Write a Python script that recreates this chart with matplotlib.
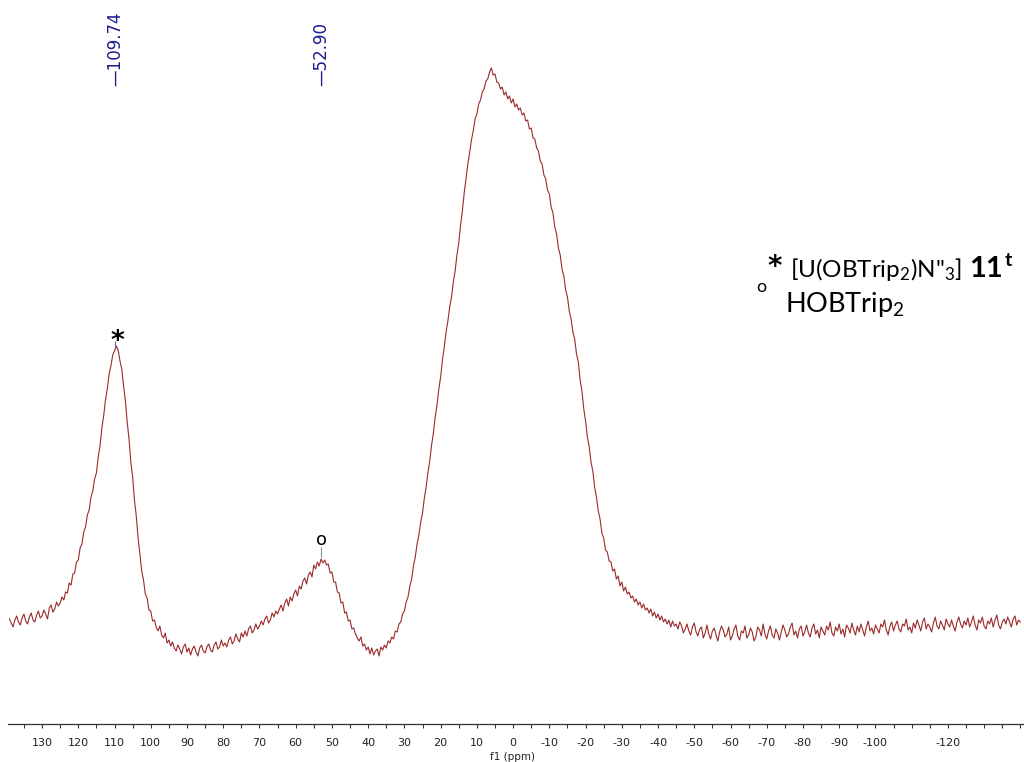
import numpy as np
import matplotlib.pyplot as plt
from matplotlib.ticker import MultipleLocator

plt.rcParams['font.family'] = ['Lato', 'DejaVu Sans']
plt.rcParams['mathtext.fontset'] = 'custom'
plt.rcParams['mathtext.rm'] = 'Lato'
plt.rcParams['mathtext.it'] = 'Lato:italic'
plt.rcParams['mathtext.bf'] = 'Lato:bold'

# intensity (arb. units), one point every 0.5 ppm starting at 139 ppm
intensity = [
    41, 37, 33, 40, 44, 38, 35, 42, 46, 39,            # 139 .. 134.5
    36, 43, 47, 40, 38, 45, 49, 42, 44, 50,            # 134 .. 129.5
    46, 41, 52, 55, 48, 51, 58, 54, 57, 63,            # 129 .. 124.5
    60, 68, 67, 77, 75, 86, 87, 98, 100, 112,          # 124 .. 119.5
    116, 128, 133, 145, 150, 163, 169, 181, 187, 203,  # 119 .. 114.5
    214, 232, 244, 260, 271, 286, 294, 305, 309, 314,  # 114 .. 109.5
    310, 299, 291, 274, 259, 238, 221, 198, 183, 160,  # 109 .. 104.5
    144, 122, 106, 89, 80, 66, 62, 50, 49, 39,         # 104 .. 99.5
    40, 33, 29, 34, 25, 22, 27, 17, 20, 14,            # 99 .. 94.5
    18, 12, 9, 15, 11, 6, 13, 16, 8, 12,               # 94 .. 89.5
    5, 11, 14, 8, 4, 12, 15, 9, 7, 13,                 # 89 .. 84.5
    16, 10, 8, 15, 18, 11, 13, 20, 14, 17,             # 84 .. 79.5
    13, 20, 23, 16, 19, 26, 21, 18, 27, 23,            # 79 .. 74.5
    29, 24, 31, 34, 27, 30, 36, 31, 34, 39,            # 74 .. 69.5
    35, 41, 44, 37, 40, 47, 43, 49, 46, 51,            # 69 .. 64.5
    55, 49, 57, 61, 54, 63, 59, 66, 70, 64,            # 64 .. 59.5
    74, 71, 79, 82, 76, 85, 88, 83, 95, 91,            # 59 .. 54.5
    98, 94, 101, 97, 100, 95, 96, 87, 88, 78,          # 54 .. 49.5
    78, 68, 67, 57, 58, 47, 48, 39, 40, 31,            # 49 .. 44.5
    32, 26, 22, 19, 23, 14, 16, 10, 13, 6,             # 44 .. 39.5
    12, 5, 9, 11, 4, 13, 10, 15, 12, 19,               # 39 .. 34.5
    17, 23, 21, 29, 28, 36, 38, 46, 49, 58,            # 34 .. 29.5
    63, 74, 81, 94, 103, 116, 125, 138, 147, 162,      # 29 .. 24.5
    173, 188, 199, 215, 227, 243, 255, 271, 283, 300,  # 24 .. 19.5
    313, 328, 339, 353, 363, 378, 389, 405, 417, 435,  # 19 .. 14.5
    449, 467, 481, 496, 507, 520, 529, 541, 546, 556,  # 14 .. 9.5
    560, 568, 571, 579, 581, 588, 592, 585, 586, 578,  # 9 .. 4.5
    577, 571, 573, 565, 568, 561, 564, 557, 561, 553,  # 4 .. -0.5
    556, 550, 552, 545, 547, 539, 540, 531, 532, 522,  # -1 .. -5.5
    521, 512, 509, 499, 496, 485, 481, 470, 466, 453,  # -6 .. -10.5
    447, 433, 426, 412, 405, 391, 384, 370, 363, 349,  # -11 .. -15.5
    341, 328, 321, 306, 298, 280, 269, 251, 239, 223,  # -16 .. -20.5
    213, 198, 189, 173, 163, 149, 141, 127, 122, 110,  # -21 .. -25.5
    108, 99, 98, 89, 91, 81, 84, 74, 78, 69,           # -26 .. -30.5
    73, 66, 68, 62, 64, 58, 61, 55, 58, 52,            # -31 .. -35.5
    56, 50, 52, 47, 51, 44, 48, 42, 46, 40,            # -36 .. -40.5
    44, 38, 41, 36, 40, 33, 39, 34, 36, 31,            # -41 .. -45.5
    38, 34, 27, 31, 36, 29, 25, 33, 37, 28,            # -46 .. -50.5
    24, 31, 33, 22, 27, 35, 26, 21, 29, 32,            # -51 .. -55.5
    25, 19, 28, 34, 30, 23, 26, 33, 20, 24,            # -56 .. -60.5
    31, 35, 24, 20, 29, 27, 34, 22, 25, 32,            # -61 .. -65.5
    28, 19, 23, 33, 30, 24, 36, 26, 21, 29,            # -66 .. -70.5
    34, 25, 22, 31, 27, 20, 28, 35, 30, 23,            # -71 .. -75.5
    26, 33, 37, 25, 29, 22, 31, 34, 24, 28,            # -76 .. -80.5
    35, 27, 23, 32, 36, 26, 30, 22, 33, 29,            # -81 .. -85.5
    25, 34, 30, 38, 27, 24, 33, 29, 36, 26,            # -86 .. -90.5
    31, 23, 35, 32, 27, 37, 30, 25, 34, 28,            # -91 .. -95.5
    36, 30, 24, 33, 39, 29, 32, 26, 35, 31,            # -96 .. -100.5
    27, 36, 33, 40, 30, 25, 34, 38, 29, 35,            # -101 .. -105.5
    39, 31, 28, 36, 34, 41, 30, 33, 27, 37,            # -106 .. -110.5
    32, 40, 35, 29, 38, 42, 31, 36, 33, 28,            # -111 .. -115.5
    37, 43, 34, 31, 39, 35, 30, 41, 36, 33,            # -116 .. -120.5
    40, 34, 29, 38, 43, 36, 32, 39, 35, 42,            # -121 .. -125.5
    33, 38, 44, 35, 30, 40, 37, 43, 34, 31,            # -126 .. -130.5
    39, 36, 42, 33, 40, 45, 35, 31, 38, 41,            # -131 .. -135.5
    36, 43, 38, 33, 41, 44, 35, 40, 38,                # -136 .. -140
]
ppm = 139.0 - 0.5 * np.arange(len(intensity))

# picked peaks and their labels
peak_ppm = [109.74, 52.90]
peak_labels = ['—109.74', '—52.90']
peak_heights = [314, 100]

tick_pos = list(range(130, -141, -10))
tick_txt = [str(t) if t >= -100 or t == -120 else '' for t in tick_pos]

fig = plt.figure(figsize=(10.24, 7.62), dpi=100)
ax = fig.add_axes([8 / 1024, 38 / 762, 1016 / 1024, 724 / 762])

ax.plot(ppm, intensity, color='#9b2a2a', lw=0.8)

ax.set_xlim(139.4, -141.0)
ax.set_ylim(-64, 660)

for s in ['top', 'left', 'right']:
    ax.spines[s].set_visible(False)
ax.spines['bottom'].set_color('#333333')
ax.spines['bottom'].set_linewidth(0.9)
ax.set_yticks([])

ax.set_xticks(tick_pos)
ax.set_xticklabels(tick_txt, family='DejaVu Sans', fontsize=8, color='#222222')
ax.xaxis.set_minor_locator(MultipleLocator(5))
ax.tick_params(axis='x', which='both', direction='out', length=3,
               width=0.8, color='#333333', pad=7)

# peak labels along the top
for p, lab in zip(peak_ppm, peak_labels):
    ax.annotate(lab, xy=(p, 1.0), xycoords=('data', 'axes fraction'),
                xytext=(0, -62), textcoords='offset points',
                rotation=90, ha='center', va='bottom',
                fontsize=12, color='#1c1c8c', family='DejaVu Sans')

# short ticks over the assigned peaks
ax.vlines(peak_ppm[0], peak_heights[0] - 1, peak_heights[0] + 5, color='#6a6aa8', lw=0.8)
ax.vlines(peak_ppm[1], peak_heights[1] + 3, peak_heights[1] + 13, color='#8a8ab8', lw=0.8)
ax.text(109.3, 311, '*', ha='center', va='baseline', fontsize=19,
        fontweight='bold', family='DejaVu Sans', color='black')
ax.text(53.0, 115, 'o', ha='center', va='baseline', fontsize=13,
        family='DejaVu Sans', color='black')

# assignment key
def fx(px):
    return (px - 8) / 1016

def fy(py):
    return (724 - py) / 724

ax.text(fx(774.5), fy(275), '*', transform=ax.transAxes, ha='center',
        va='baseline', fontsize=20, fontweight='bold', family='DejaVu Sans',
        color='black')
ax.text(fx(790), fy(277), "[U(OBTrip$_2$)N\"$_3$]",
        transform=ax.transAxes, fontsize=17.5, color='black', va='baseline')
ax.text(fx(969), fy(277), '11', transform=ax.transAxes, fontsize=21,
        fontweight='bold', color='black', va='baseline')
ax.text(fx(1005), fy(266), 't', transform=ax.transAxes, fontsize=14,
        fontweight='bold', color='black', va='baseline')
ax.text(fx(756), fy(292), 'o', transform=ax.transAxes, fontsize=13,
        color='black', va='baseline')
ax.text(fx(785), fy(312), "HOBTrip$_2$", transform=ax.transAxes,
        fontsize=19.5, color='black', va='baseline')

fig.text(513 / 1024, 1 - 757 / 762, 'f1 (ppm)', ha='center', va='center',
         fontsize=7.5, family='DejaVu Sans', color='#222222')

fig.savefig('out.png', dpi=100)
